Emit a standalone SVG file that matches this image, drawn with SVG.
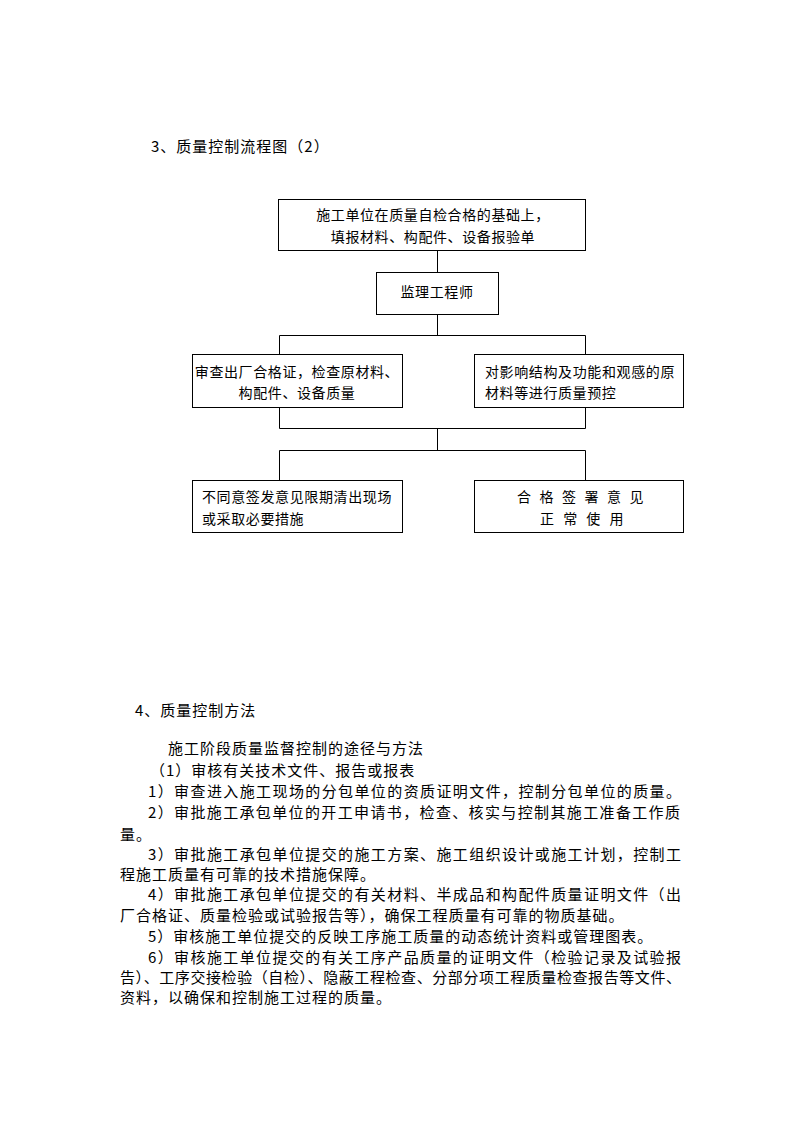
<svg xmlns="http://www.w3.org/2000/svg" width="794" height="1123" viewBox="0 0 794 1123">
<style>
text{font-family:"Noto Sans CJK SC","Liberation Sans",sans-serif;fill:#000}
.t{font-size:15px;letter-spacing:1px}
.b{font-size:14px;letter-spacing:0.6px}
.c{text-anchor:middle}
rect{fill:#fff;stroke:#000;stroke-width:1}
#connectors line{stroke:#000;stroke-width:1}
</style>
<rect x="0" y="0" width="794" height="1123" style="stroke:none"/>
<text class="t" x="151" y="152">3、质量控制流程图（2）</text>
<g id="connectors">
<line x1="437.5" y1="251" x2="437.5" y2="272"/>
<line x1="437.5" y1="315" x2="437.5" y2="335.5"/>
<line x1="279.5" y1="335.5" x2="585.5" y2="335.5"/>
<line x1="279.5" y1="335.5" x2="279.5" y2="354"/>
<line x1="585.5" y1="335.5" x2="585.5" y2="354"/>
<line x1="279.5" y1="408" x2="279.5" y2="428.5"/>
<line x1="585.5" y1="408" x2="585.5" y2="428.5"/>
<line x1="279.5" y1="428.5" x2="585.5" y2="428.5"/>
<line x1="437.5" y1="428.5" x2="437.5" y2="450.5"/>
<line x1="279.5" y1="450.5" x2="585.5" y2="450.5"/>
<line x1="279.5" y1="450.5" x2="279.5" y2="480"/>
<line x1="585.5" y1="450.5" x2="585.5" y2="480"/>
</g>
<g id="n1">
<rect x="278.5" y="199.5" width="307" height="51"/>
<text class="b c" x="433" y="220">施工单位在质量自检合格的基础上，</text>
<text class="b c" x="433" y="242">填报材料、构配件、设备报验单</text>
</g>
<g id="n2">
<rect x="376.5" y="272.5" width="122" height="42"/>
<text class="b c" x="437" y="297">监理工程师</text>
</g>
<g id="n3">
<rect x="192.5" y="354.5" width="210" height="53"/>
<text class="b c" x="297" y="377">审查出厂合格证，检查原材料、</text>
<text class="b c" x="297" y="398">构配件、设备质量</text>
</g>
<g id="n4">
<rect x="474.5" y="354.5" width="209" height="53"/>
<text class="b" x="485" y="377" textLength="190" lengthAdjust="spacing">对影响结构及功能和观感的原</text>
<text class="b" x="485" y="398">材料等进行质量预控</text>
</g>
<g id="n5">
<rect x="192.5" y="480.5" width="210" height="52"/>
<text class="b" x="202" y="502" textLength="190" lengthAdjust="spacing">不同意签发意见限期清出现场</text>
<text class="b" x="202" y="524">或采取必要措施</text>
</g>
<g id="n6">
<rect x="474.5" y="480.5" width="209" height="52"/>
<text class="b" x="517" y="502" textLength="127" lengthAdjust="spacing">合 格 签 署 意 见</text>
<text class="b" x="540" y="524" textLength="84" lengthAdjust="spacing">正 常 使 用</text>
</g>
<g id="body">
<text class="t" x="135" y="716">4、质量控制方法</text>
<text class="t" x="168" y="754">施工阶段质量监督控制的途径与方法</text>
<text class="t" x="150" y="776">（1）审核有关技术文件、报告或报表</text>
<text class="t" x="148" y="797" textLength="534" lengthAdjust="spacing">1）审查进入施工现场的分包单位的资质证明文件，控制分包单位的质量。</text>
<text class="t" x="148" y="818" textLength="533" lengthAdjust="spacing">2）审批施工承包单位的开工申请书，检查、核实与控制其施工准备工作质</text>
<text class="t" x="120" y="840">量。</text>
<text class="t" x="148" y="860" textLength="534" lengthAdjust="spacing">3）审批施工承包单位提交的施工方案、施工组织设计或施工计划，控制工</text>
<text class="t" x="120" y="880">程施工质量有可靠的技术措施保障。</text>
<text class="t" x="148" y="900" textLength="534" lengthAdjust="spacing">4）审批施工承包单位提交的有关材料、半成品和构配件质量证明文件（出</text>
<text class="t" x="120" y="921">厂合格证、质量检验或试验报告等），确保工程质量有可靠的物质基础。</text>
<text class="t" x="148" y="942">5）审核施工单位提交的反映工序施工质量的动态统计资料或管理图表。</text>
<text class="t" x="148" y="963" textLength="534" lengthAdjust="spacing">6）审核施工单位提交的有关工序产品质量的证明文件（检验记录及试验报</text>
<text class="t" x="120" y="983" textLength="562" lengthAdjust="spacing">告）、工序交接检验（自检）、隐蔽工程检查、分部分项工程质量检查报告等文件、</text>
<text class="t" x="120" y="1003">资料，以确保和控制施工过程的质量。</text>
</g>
</svg>
